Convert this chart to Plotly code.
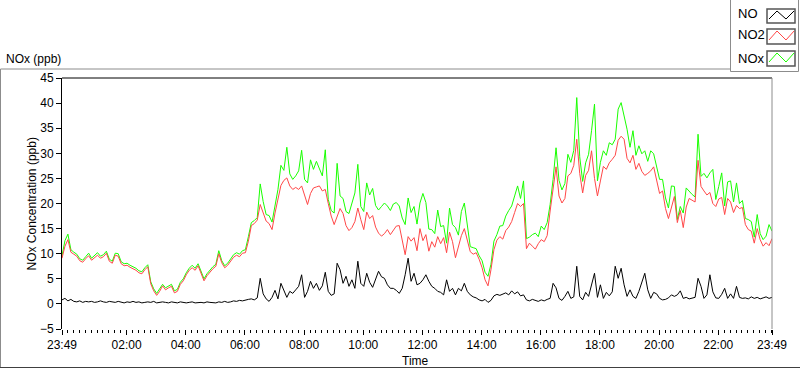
import plotly.graph_objects as go
import pandas as pd

# ---------------- data (6-minute samples) ----------------
no2 = [
    9.1, 11.5, 12.8, 10.3, 9.9, 9.5, 8.6, 8.3, 9.0, 9.6,
    8.7, 9.2, 9.7, 9.1, 9.4, 10.1, 8.5, 8.1, 9.7, 9.5,
    8.0, 7.6, 7.7, 7.3, 7.0, 6.7, 6.2, 6.0, 6.8, 7.4,
    4.0, 2.6, 1.7, 2.5, 3.6, 2.8, 3.2, 3.5, 2.2, 2.5,
    3.9, 4.6, 5.8, 6.7, 7.2, 6.7, 7.6, 6.0, 4.6, 5.6,
    6.4, 7.0, 7.5, 10.0, 8.2, 7.2, 7.7, 8.4, 9.3, 9.7,
    9.4, 10.1, 10.2, 12.5, 15.6, 16.0, 16.7, 19.8, 18.2, 16.5,
    16.0, 14.8, 18.1, 21.2, 23.6, 24.6, 25.1, 23.5, 22.8, 23.2,
    22.8, 23.5, 21.5, 19.8, 22.0, 23.1, 23.3, 23.5, 22.5, 22.8,
    20.0, 17.5, 15.8, 17.4, 19.0, 18.0, 15.6, 14.6, 15.2, 16.4,
    19.1, 16.8, 14.8, 18.3, 17.0, 17.6, 15.3, 14.1, 13.5, 14.0,
    14.8, 13.8, 14.6, 15.5, 15.6, 12.6, 9.8, 13.4, 12.5, 13.2,
    10.6, 15.0, 12.6, 13.8, 10.5, 12.4, 11.3, 13.4, 12.0, 13.2,
    10.2, 14.3, 12.4, 9.2, 11.4, 13.6, 15.0, 12.4, 10.4, 9.9,
    10.2, 8.9, 7.2, 4.8, 3.6, 6.8, 10.8, 12.7, 13.4, 12.9,
    14.6, 15.3, 16.4, 18.2, 20.0, 19.4, 20.0, 11.0, 12.1, 11.5,
    10.9, 12.0, 12.8, 12.4, 13.6, 18.5, 22.5, 27.3, 21.5, 20.1,
    21.0, 25.5, 26.0, 27.6, 32.8, 26.0, 22.1, 25.6, 26.6, 30.5,
    25.0, 21.5, 24.5, 27.4, 26.8, 28.1, 28.8, 29.6, 32.6, 33.4,
    32.8, 29.0, 28.1, 29.6, 26.8, 28.0, 26.4, 25.6, 26.0, 26.5,
    27.3, 24.8, 22.0, 22.5, 19.0, 17.0, 19.2, 21.4, 16.2, 18.6,
    15.2, 19.3, 21.0, 20.6, 20.3, 28.6, 23.4, 22.5, 21.7, 22.2,
    20.0, 19.4, 20.9, 21.2, 17.8, 21.0, 20.3, 18.2, 19.6, 19.0,
    19.2, 15.8, 14.8, 14.5, 12.1, 15.0, 12.8, 11.5, 12.2, 11.6,
    13.0,
]

nox = [
    9.6, 12.6, 13.9, 10.8, 10.3, 9.9, 9.0, 8.7, 9.4, 10.1,
    9.1, 9.6, 10.2, 9.5, 9.8, 10.5, 8.9, 8.5, 10.1, 10.0,
    8.4, 8.0, 8.1, 7.7, 7.4, 7.1, 6.6, 6.4, 7.2, 7.8,
    4.4, 3.0, 2.1, 2.9, 3.9, 3.2, 3.5, 3.9, 2.6, 2.9,
    4.3, 5.0, 6.2, 7.1, 7.7, 7.1, 8.0, 6.4, 5.0, 6.0,
    6.8, 7.4, 7.9, 10.6, 8.6, 7.6, 8.1, 8.9, 9.8, 10.2,
    9.9, 10.6, 10.8, 13.4, 16.2, 16.6, 17.2, 23.9, 20.4, 17.8,
    17.6, 16.3, 19.4, 22.8, 27.6, 26.6, 31.2, 25.9, 24.8, 25.5,
    26.5, 30.6, 24.8, 24.1, 28.7, 26.8, 28.4, 27.0, 25.5, 30.7,
    20.8, 18.6, 18.1, 28.0, 21.5, 21.0, 18.4, 18.0, 20.3, 22.1,
    27.8, 19.4, 18.4, 24.1, 21.7, 23.0, 19.6, 18.7, 19.4, 20.1,
    19.5, 18.6, 19.9, 20.2, 19.5, 17.1, 15.8, 21.1, 18.2, 19.4,
    15.9, 20.1, 22.0, 20.2, 14.9, 14.8, 14.0, 18.7, 15.4, 15.6,
    12.1, 19.1, 15.8, 15.2, 13.7, 18.4, 20.1, 16.0, 11.4, 11.2,
    11.0, 9.6, 8.6, 6.3, 5.5, 7.9, 12.5, 13.8, 15.5, 15.6,
    17.5, 18.6, 19.5, 21.5, 23.5, 21.0, 24.5, 13.0, 13.3, 13.8,
    14.1, 13.4, 15.5, 14.8, 16.2, 19.8, 24.8, 31.1, 24.6, 22.7,
    24.0, 29.8, 28.2, 30.6, 41.1, 29.3, 24.4, 28.1, 29.8, 34.5,
    39.8, 24.5, 28.2, 30.5, 29.6, 32.1, 31.7, 32.8, 38.8, 40.1,
    37.5, 34.8, 31.2, 34.5, 29.6, 31.5, 29.9, 30.5, 28.4, 30.5,
    29.9, 27.2, 24.8, 24.8, 21.1, 19.1, 23.5, 23.4, 16.8, 19.4,
    18.1, 23.1, 22.4, 21.8, 21.3, 33.8, 25.4, 26.0, 25.1, 26.1,
    26.8, 20.8, 23.4, 26.1, 19.5, 24.3, 24.5, 20.3, 24.1, 20.0,
    20.6, 17.0, 16.8, 16.4, 13.3, 17.8, 14.0, 12.8, 13.5, 15.8,
    14.5,
]

no = [
    0.8, 1.1, 0.6, 0.9, 0.5, 0.4, 0.6, 0.3, 0.5, 0.4,
    0.5, 0.3, 0.4, 0.6, 0.4, 0.3, 0.5, 0.4, 0.3, 0.5,
    0.4, 0.2, 0.4, 0.3, 0.5, 0.3, 0.4, 0.2, 0.3, 0.4,
    0.3, 0.5, 0.2, 0.3, 0.4, 0.3, 0.2, 0.4, 0.3, 0.2,
    0.4, 0.3, 0.2, 0.3, 0.4, 0.2, 0.3, 0.3, 0.2, 0.4,
    0.3, 0.3, 0.2, 0.4, 0.3, 0.5, 0.3, 0.4, 0.6, 0.5,
    0.7, 0.6, 0.8, 0.9, 1.0, 0.8, 1.2, 5.1, 2.0, 1.0,
    0.5, 1.3, 2.7, 1.0, 4.1, 2.5, 1.3, 2.5, 2.1, 2.8,
    3.5, 5.8, 1.3, 2.5, 4.5, 3.1, 4.1, 2.7, 3.6, 6.3,
    2.5, 1.7, 2.0, 8.1, 6.8, 4.1, 5.5, 3.5, 4.8, 3.1,
    8.5, 4.1, 3.5, 6.1, 4.3, 3.3, 5.1, 6.5, 5.4, 5.1,
    3.8, 3.1, 3.1, 2.7, 2.1, 3.1, 5.8, 9.1, 4.5, 6.1,
    3.8, 4.1, 4.8, 5.8, 4.5, 3.5, 3.1, 2.5, 2.3, 1.8,
    4.8, 2.5, 3.1, 1.8, 3.1, 2.6, 4.1, 2.5, 1.8, 1.4,
    1.2, 0.8, 0.6, 0.9, 0.3, 0.7, 1.6, 1.9, 1.7, 2.0,
    2.2, 1.8, 2.6, 2.0, 2.4, 1.6, 1.8, 0.8, 0.6, 0.9,
    0.7, 0.5, 0.8, 0.6, 0.9, 1.1, 4.1, 3.2, 1.1, 0.7,
    1.5, 2.5, 1.1, 1.4, 7.5, 1.5, 0.8, 2.3, 1.5, 3.8,
    6.1, 1.3, 3.8, 1.1, 2.3, 1.6, 2.4, 7.5, 5.1, 7.1,
    3.8, 1.5, 2.8, 1.5, 1.1, 2.5, 4.1, 6.1, 2.8, 1.1,
    2.3, 2.0, 1.1, 0.8, 0.9, 1.2, 1.8, 1.5, 1.8, 2.6,
    1.1, 1.3, 1.0, 1.1, 1.3, 5.1, 3.5, 1.1, 1.8, 5.8,
    2.4, 1.2, 1.1, 1.9, 3.1, 1.1, 2.0, 1.1, 3.5, 1.3,
    1.1, 1.2, 1.0, 1.4, 1.1, 1.3, 1.0, 1.2, 1.4, 1.1,
    1.3,
]

tick_labels = ["23:49", "02:00", "04:00", "06:00", "08:00", "10:00", "12:00",
               "14:00", "16:00", "18:00", "20:00", "22:00", "23:49"]
y_ticks = [-5, 0, 5, 10, 15, 20, 25, 30, 35, 40, 45]
series_names = ["NO", "NO2", "NOx"]
series_colors = ["#000000", "#FF4747", "#19FF00"]

# ---------------- time axis ----------------
start = pd.Timestamp("2023-01-01 23:49")
end = start + pd.Timedelta(hours=24)
times = pd.date_range(start, periods=len(no2), freq="6min")
tick_vals = ([start]
             + [pd.Timestamp("2023-01-02 " + t) for t in tick_labels[1:-1]]
             + [end])

# ---------------- pixel helpers for decorations ----------------
L, R, T, B = 62, 772, 78, 329
W, H = 800, 369


def px(x):
    return (x - L) / (R - L)


def py(y):
    return (B - y) / (B - T)


fig = go.Figure()
for vals, name, col in [(nox, "NOx", series_colors[2]),
                        (no2, "NO2", series_colors[1]),
                        (no, "NO", series_colors[0])]:
    fig.add_trace(go.Scatter(x=times, y=vals, mode="lines", name=name,
                             line=dict(color=col, width=1),
                             hoverinfo="skip", showlegend=False))

font = "Liberation Sans, Arial, sans-serif"

fig.update_layout(
    width=W, height=H,
    margin=dict(l=L, r=W - R, t=T, b=H - B, pad=0),
    paper_bgcolor="white", plot_bgcolor="white",
    font=dict(family=font, size=12, color="#000000"),
    xaxis=dict(
        range=[start, end], showgrid=False, zeroline=False, showline=False,
        tickmode="array", tickvals=tick_vals, ticktext=tick_labels,
        ticks="outside", ticklen=5, tickcolor="#000000", tickwidth=1,
        tickfont=dict(size=12, color="#000000"),
        minor=dict(ticks="outside", ticklen=3, tickcolor="#000000",
                   tick0="2023-01-02 00:00", dtick=12 * 60 * 1000),
    ),
    yaxis=dict(
        range=[-5, 45], showgrid=False, zeroline=False,
        showline=True, linecolor="#000000", linewidth=1,
        tickmode="array", tickvals=y_ticks,
        ticks="outside", ticklen=5, tickcolor="#000000",
        tickfont=dict(size=12, color="#000000"),
    ),
)

shapes = []
# plot frame: top black, right gray
shapes.append(dict(type="line", xref="paper", yref="paper",
                   x0=px(L), x1=px(R), y0=py(T), y1=py(T),
                   line=dict(color="#000000", width=1)))
shapes.append(dict(type="line", xref="paper", yref="paper",
                   x0=px(R), x1=px(R), y0=py(T), y1=py(B),
                   line=dict(color="#8c8c8c", width=1)))
# outer panel frame
shapes.append(dict(type="line", xref="paper", yref="paper",
                   x0=px(0.5), x1=px(730), y0=py(69), y1=py(69),
                   line=dict(color="#8c8c8c", width=1)))
shapes.append(dict(type="line", xref="paper", yref="paper",
                   x0=px(0.5), x1=px(0.5), y0=py(69), y1=py(368),
                   line=dict(color="#8c8c8c", width=1)))
shapes.append(dict(type="line", xref="paper", yref="paper",
                   x0=px(0), x1=px(800), y0=py(367.5), y1=py(367.5),
                   line=dict(color="#404040", width=1)))
# legend box
shapes.append(dict(type="rect", xref="paper", yref="paper",
                   x0=px(730.5), x1=px(798.5), y0=py(-1), y1=py(71.5),
                   line=dict(color="#8c8c8c", width=1), fillcolor="white"))

annotations = []
legend_rows = [(9, 23, 13), (29, 44, 35), (51, 66, 58)]
for (y0, y1, yc), name, col in zip(legend_rows, series_names, series_colors):
    shapes.append(dict(type="rect", xref="paper", yref="paper",
                       x0=px(767), x1=px(795), y0=py(y1), y1=py(y0),
                       line=dict(color="#555555", width=1.5), fillcolor="white"))
    ylo, yhi = y1 - 4, y0 + 2
    path = "M {},{} L {},{} L {},{} L {},{}".format(
        px(769), py(ylo), px(777), py(yhi), px(786), py(ylo), px(794), py(yhi))
    shapes.append(dict(type="path", xref="paper", yref="paper", path=path,
                       line=dict(color=col, width=1)))
    annotations.append(dict(text=name, xref="paper", yref="paper",
                            x=px(736), y=py(yc), xanchor="left", yanchor="middle",
                            showarrow=False, font=dict(size=13, color="#000000")))

annotations.append(dict(text="NOx (ppb)", xref="paper", yref="paper",
                        x=px(4), y=py(59), xanchor="left", yanchor="middle",
                        showarrow=False, font=dict(size=12, color="#000000")))
annotations.append(dict(text="NOx Concentration (ppb)", xref="paper", yref="paper",
                        x=px(31.5), y=py(204), xanchor="center", yanchor="middle",
                        textangle=-90, showarrow=False,
                        font=dict(size=12, color="#000000")))
annotations.append(dict(text="Time", xref="paper", yref="paper",
                        x=px(415), y=py(361), xanchor="center", yanchor="middle",
                        showarrow=False, font=dict(size=12, color="#000000")))

fig.update_layout(shapes=shapes, annotations=annotations)
fig.write_html(
    "out.html",
    config={"displayModeBar": False, "staticPlot": True},
    post_script="document.body.style.margin='0';document.body.style.overflow='hidden';",
)
